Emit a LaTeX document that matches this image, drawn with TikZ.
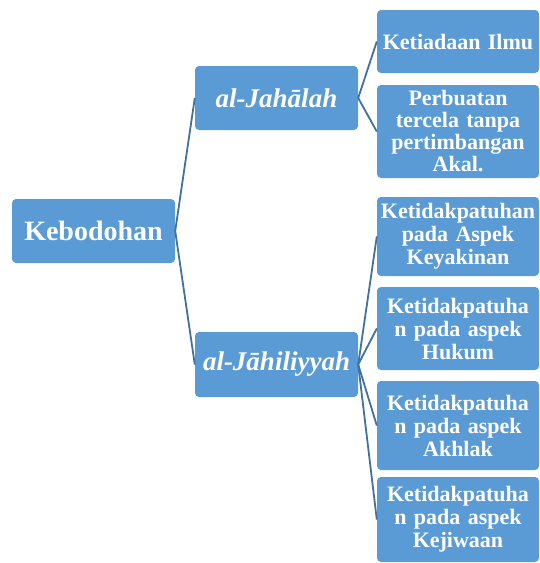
\documentclass[tikz,border=0pt]{standalone}
\usepackage{fontspec}
\setmainfont{Liberation Serif}
\definecolor{boxblue}{HTML}{5B9BD5}
\definecolor{linkblue}{HTML}{41719C}
\tikzset{
  box/.style={fill=boxblue, draw=none, rounded corners=4pt, text=white, align=center, inner sep=0pt, font=\bfseries},
  bigbox/.style={box, minimum width=163pt, minimum height=64pt, font=\bfseries\fontsize{28}{30}\selectfont},
  midbox/.style={box, minimum width=163pt, minimum height=64pt, font=\bfseries\itshape\fontsize{27}{30}\selectfont},
  leafbox/.style={box, minimum width=162pt, text width=160pt, font=\bfseries\fontsize{22}{23}\selectfont},
  link/.style={draw=linkblue, line width=1.8pt}
}
\begin{document}
\begin{tikzpicture}[x=1pt,y=-1pt]
\useasboundingbox (0,0) rectangle (539,563);
\node[bigbox] (k) at (93.5,231) {Kebodohan};
\node[midbox] (j1) at (276.5,98) {al-Jahālah};
\node[midbox, minimum height=65pt] (j2) at (276.5,364.5) {al-Jāhiliyyah};
\node[leafbox, minimum height=63pt] (c1) at (458,41.5) {Ketiadaan Ilmu};
\node[leafbox, minimum height=93pt, font=\bfseries\fontsize{22}{22}\selectfont] (c2) at (458,131.5) {Perbuatan\\tercela tanpa\\pertimbangan\\Akal.};
\node[leafbox, minimum height=79pt] (c3) at (458,236.5) {Ketidakpatuhan\\pada Aspek\\Keyakinan};
\node[leafbox, minimum height=83pt] (c4) at (458,328.5) {Ketidakpatuha\\n pada aspek\\Hukum};
\node[leafbox, minimum height=89pt] (c5) at (458,425.5) {Ketidakpatuha\\n pada aspek\\Akhlak};
\node[leafbox, minimum height=85pt] (c6) at (458,519.5) {Ketidakpatuha\\n pada aspek\\Kejiwaan};
\draw[link] (k.east) -- (j1.west);
\draw[link] (k.east) -- (j2.west);
\foreach \c in {c1,c2} \draw[link] (j1.east) -- (\c.west);
\foreach \c in {c3,c4,c5,c6} \draw[link] (j2.east) -- (\c.west);
\end{tikzpicture}
\end{document}
